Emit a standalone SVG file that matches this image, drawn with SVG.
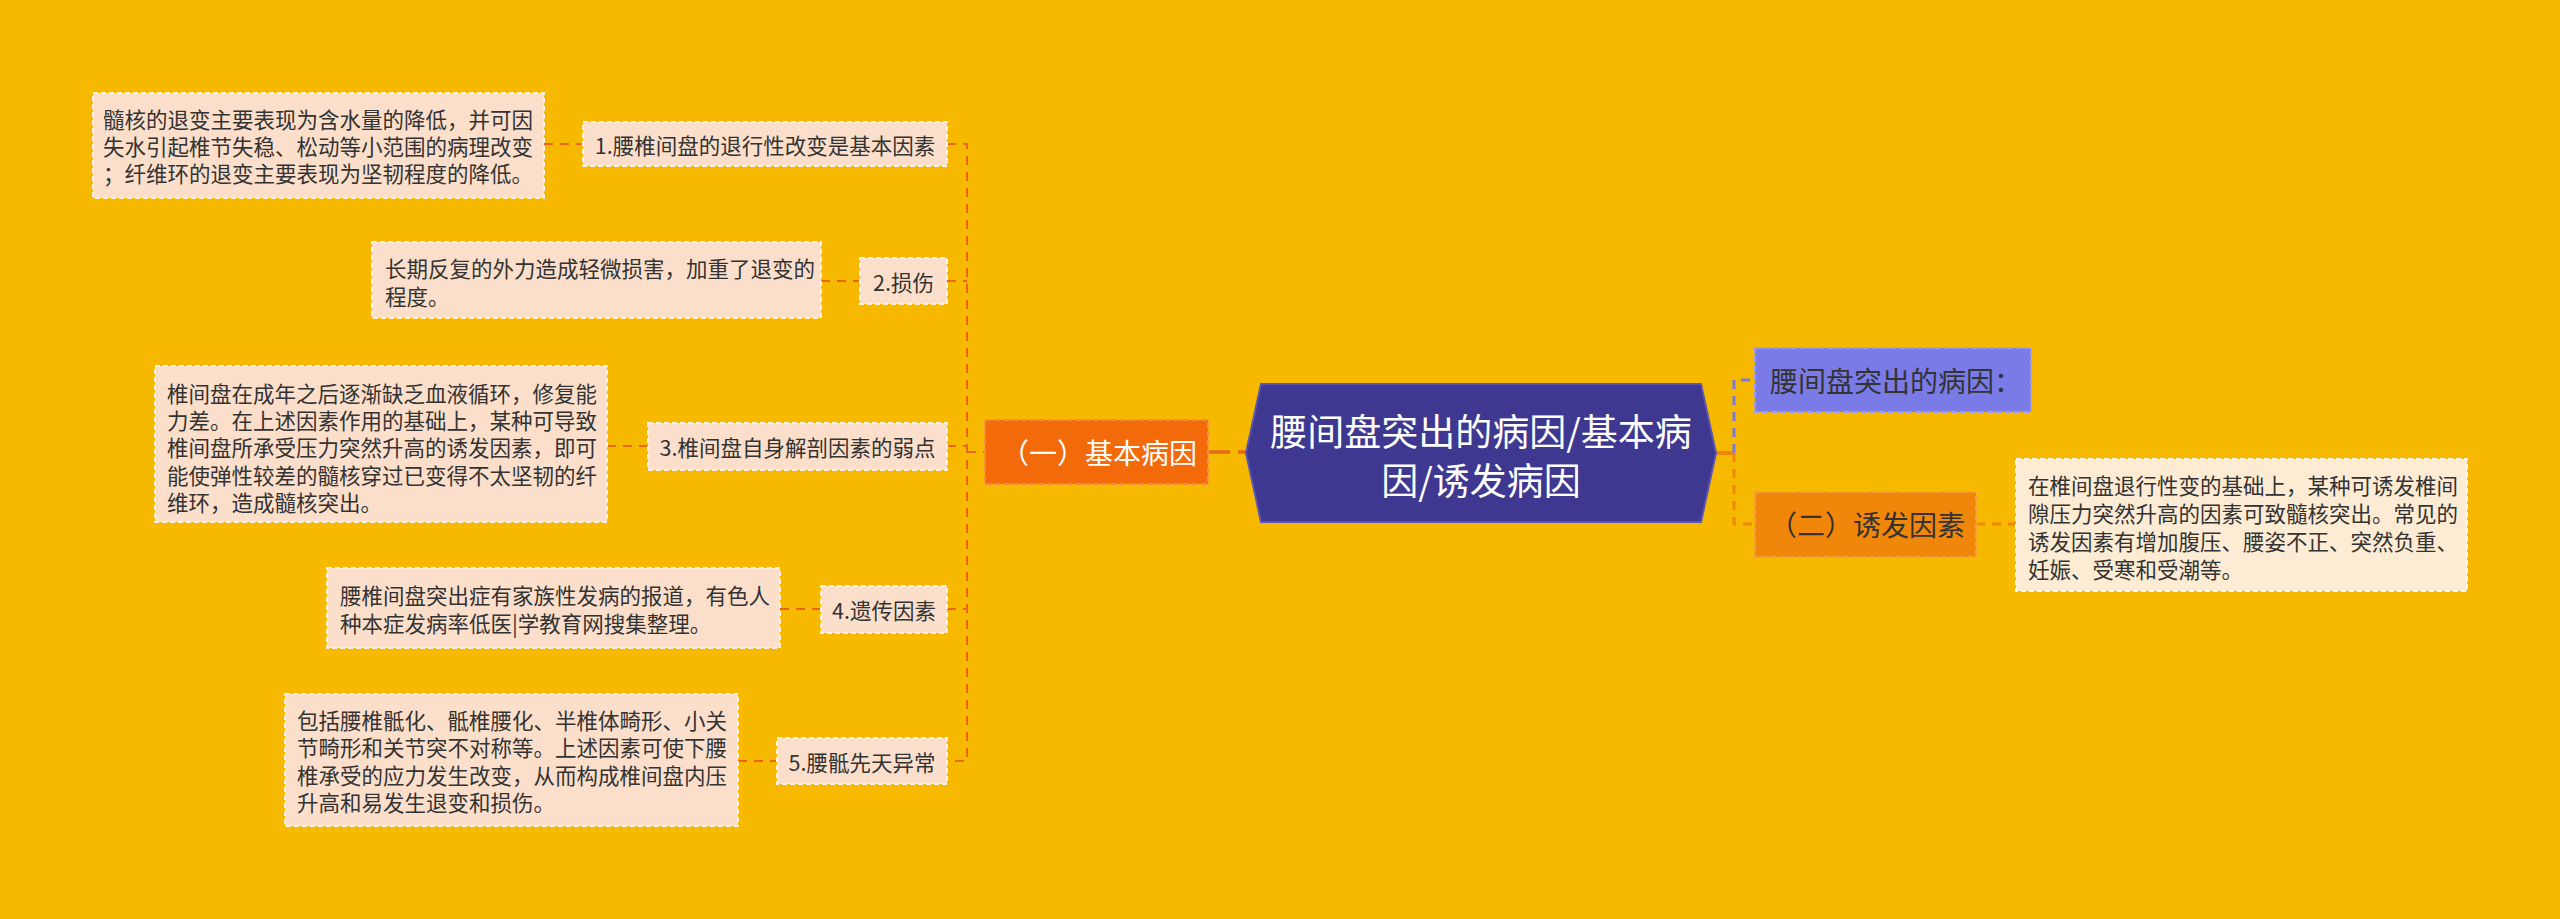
<svg xmlns="http://www.w3.org/2000/svg" width="2560" height="919" viewBox="0 0 2560 919">
<defs>
<style>
.t{font-family:"Noto Sans CJK SC","Noto Sans",sans-serif;fill:#333;}
.s{font-size:21.5px;}
.m{font-size:28px;}
.leaf{fill:#FCDFCB;stroke:#FFF1E2;stroke-width:2;stroke-dasharray:5 3;}
.leafr{fill:#FDEBD3;stroke:#FFF6EA;stroke-width:2;stroke-dasharray:5 3;}
.c{fill:none;stroke:#E8671A;stroke-width:2;stroke-dasharray:9 7;}
.cb{fill:none;stroke:#7B7BE8;stroke-width:3;stroke-dasharray:9 7;}
.co{fill:none;stroke:#F0860A;stroke-width:3;stroke-dasharray:9 7;}
</style>
</defs>
<rect width="2560" height="919" fill="#F6B900"/>
<g id="connectors">
<path class="c" d="M544 144H583"/>
<path class="c" d="M821 281H860"/>
<path class="c" d="M607 446H648"/>
<path class="c" d="M780 609H821"/>
<path class="c" d="M738 761H777"/>
<path class="c" d="M947 144H967V761H947M947 281H967M947 446H967M947 609H967M967 452H985"/>
<path d="M1208 452H1246" fill="none" stroke="#E8671A" stroke-width="3.5" stroke-dasharray="22 8"/>
<path d="M1716 453H1734" fill="none" stroke="#F0860A" stroke-width="4"/>
<path class="cb" d="M1734 453V380H1754"/>
<path class="co" d="M1734 453V524H1754"/>
<path class="co" d="M1976 524H2016"/>
</g>
<g id="center">
<polygon points="1246,453 1261,384 1701,384 1716,453 1701,522 1261,522" fill="#3E3891" stroke="#5A54B2" stroke-width="2"/>
<text class="t" x="1481" y="430" font-size="37" style="fill:#fff" text-anchor="middle" dominant-baseline="central">腰间盘突出的病因/基本病</text>
<text class="t" x="1481" y="479" font-size="37" style="fill:#fff" text-anchor="middle" dominant-baseline="central">因/诱发病因</text>
</g>
<g id="n-basic">
<rect x="985" y="420" width="223" height="64" fill="#F26A0A" stroke="#F58C40" stroke-width="2" stroke-dasharray="6 3"/>
<text class="t m" x="1099" y="452" style="fill:#fff" text-anchor="middle" dominant-baseline="central">（一）基本病因</text>
</g>
<g id="n-cause">
<rect x="1755" y="348" width="276" height="64" fill="#7B7BE8" stroke="#9C9CF2" stroke-width="2" stroke-dasharray="6 3"/>
<text class="t m" x="1770" y="380" dominant-baseline="central">腰间盘突出的病因：</text>
</g>
<g id="n-trigger">
<rect x="1755" y="492" width="221" height="65" fill="#F0860A" stroke="#F4A040" stroke-width="2" stroke-dasharray="6 3"/>
<text class="t m" x="1867" y="524" text-anchor="middle" dominant-baseline="central">（二）诱发因素</text>
</g>
<g id="n-trigger-desc">
<rect class="leafr" x="2016" y="459" width="451" height="132"/>
<text class="t s" x="2028" dominant-baseline="central"><tspan x="2028" y="484">在椎间盘退行性变的基础上，某种可诱发椎间</tspan><tspan x="2028" y="512">隙压力突然升高的因素可致髓核突出。常见的</tspan><tspan x="2028" y="540">诱发因素有增加腹压、腰姿不正、突然负重、</tspan><tspan x="2028" y="568">妊娠、受寒和受潮等。</tspan></text>
</g>
<g id="n1">
<rect class="leaf" x="583" y="122" width="364" height="44"/>
<text class="t s" x="765" y="144" text-anchor="middle" dominant-baseline="central">1.腰椎间盘的退行性改变是基本因素</text>
</g>
<g id="n1-desc">
<rect class="leaf" x="93" y="93" width="451" height="105"/>
<text class="t s" dominant-baseline="central"><tspan x="103" y="118">髓核的退变主要表现为含水量的降低，并可因</tspan><tspan x="103" y="145">失水引起椎节失稳、松动等小范围的病理改变</tspan><tspan x="103" y="172">；纤维环的退变主要表现为坚韧程度的降低。</tspan></text>
</g>
<g id="n2">
<rect class="leaf" x="860" y="258" width="87" height="46"/>
<text class="t s" x="903.5" y="281" text-anchor="middle" dominant-baseline="central">2.损伤</text>
</g>
<g id="n2-desc">
<rect class="leaf" x="372" y="242" width="449" height="76"/>
<text class="t s" dominant-baseline="central"><tspan x="385" y="267">长期反复的外力造成轻微损害，加重了退变的</tspan><tspan x="385" y="295">程度。</tspan></text>
</g>
<g id="n3">
<rect class="leaf" x="648" y="423" width="299" height="47"/>
<text class="t s" x="797.5" y="446" text-anchor="middle" dominant-baseline="central">3.椎间盘自身解剖因素的弱点</text>
</g>
<g id="n3-desc">
<rect class="leaf" x="155" y="366" width="452" height="156"/>
<text class="t s" dominant-baseline="central"><tspan x="167" y="392">椎间盘在成年之后逐渐缺乏血液循环，修复能</tspan><tspan x="167" y="419">力差。在上述因素作用的基础上，某种可导致</tspan><tspan x="167" y="446">椎间盘所承受压力突然升高的诱发因素，即可</tspan><tspan x="167" y="474">能使弹性较差的髓核穿过已变得不太坚韧的纤</tspan><tspan x="167" y="501">维环，造成髓核突出。</tspan></text>
</g>
<g id="n4">
<rect class="leaf" x="821" y="586" width="126" height="47"/>
<text class="t s" x="884" y="609" text-anchor="middle" dominant-baseline="central">4.遗传因素</text>
</g>
<g id="n4-desc">
<rect class="leaf" x="327" y="568" width="453" height="80"/>
<text class="t s" dominant-baseline="central"><tspan x="340" y="594">腰椎间盘突出症有家族性发病的报道，有色人</tspan><tspan x="340" y="622">种本症发病率低医|学教育网搜集整理。</tspan></text>
</g>
<g id="n5">
<rect class="leaf" x="777" y="738" width="170" height="46"/>
<text class="t s" x="862" y="761" text-anchor="middle" dominant-baseline="central">5.腰骶先天异常</text>
</g>
<g id="n5-desc">
<rect class="leaf" x="285" y="694" width="453" height="132"/>
<text class="t s" dominant-baseline="central"><tspan x="297" y="719">包括腰椎骶化、骶椎腰化、半椎体畸形、小关</tspan><tspan x="297" y="746">节畸形和关节突不对称等。上述因素可使下腰</tspan><tspan x="297" y="774">椎承受的应力发生改变，从而构成椎间盘内压</tspan><tspan x="297" y="801">升高和易发生退变和损伤。</tspan></text>
</g>
</svg>
